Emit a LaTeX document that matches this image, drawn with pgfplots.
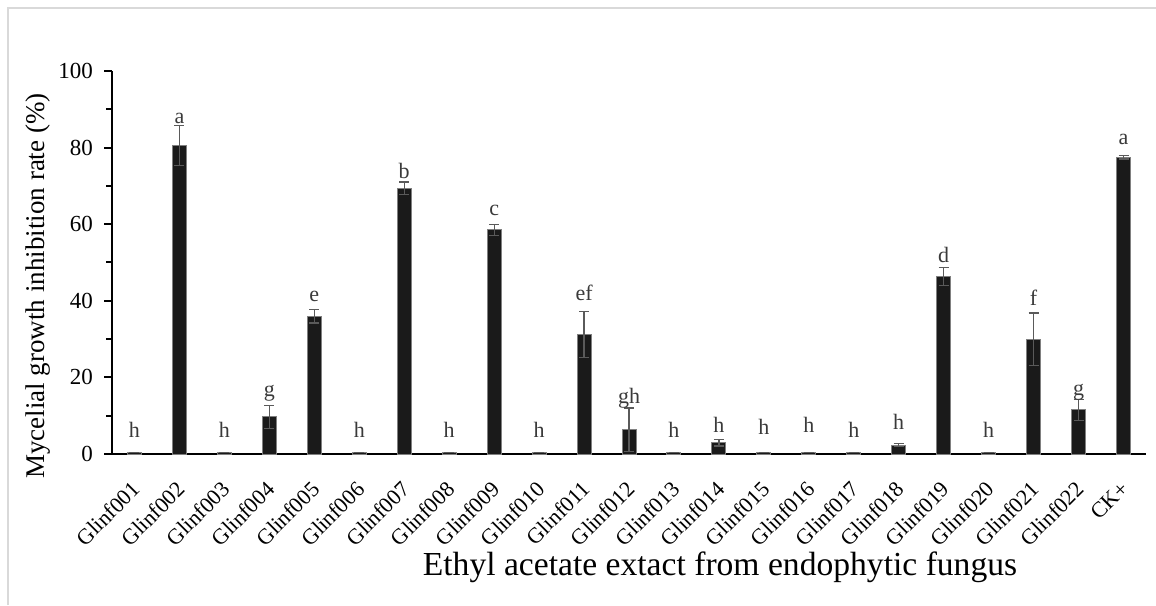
\documentclass[border=0pt]{standalone}
\usepackage{fontspec}
\setmainfont{Liberation Serif}
\usepackage{pgfplots}
\usepackage{pgfplotstable}
\pgfplotsset{compat=1.18}

\definecolor{barfill}{HTML}{1A1A1A}
\definecolor{baredge}{HTML}{808080}
\definecolor{errcol}{HTML}{5A5A5A}
\definecolor{letcol}{HTML}{3A3A3A}
\definecolor{framecol}{HTML}{D9D9D9}

% x  value  error  label-height  letter
\pgfplotstableread{
x  y     err  ly    lab
0  0.4   0.0  4.4   h
1  80.5  5.2  86.4  a
2  0.4   0.0  4.4   h
3  9.7   3.0  14.9  g
4  36.0  1.8  39.7  e
5  0.4   0.0  4.4   h
6  69.4  1.6  72.0  b
7  0.4   0.0  4.4   h
8  58.5  1.5  62.4  c
9  0.4   0.0  4.4   h
10 31.3  6.0  40.2  ef
11 6.3   5.7  13.3  gh
12 0.4   0.0  4.4   h
13 2.9   0.8  5.5   h
14 0.4   0.0  5.0   h
15 0.4   0.0  5.5   h
16 0.4   0.0  4.4   h
17 2.3   0.4  6.3   h
18 46.3  2.4  50.1  d
19 0.4   0.0  4.4   h
20 30.0  6.8  38.9  f
21 11.5  2.8  15.4  g
22 77.5  0.5  80.7  a
}\inhib

\begin{document}
\begin{tikzpicture}
\useasboundingbox (0,0) rectangle (578pt,302.5pt);
\draw[framecol, line width=1pt] (4pt,0) -- (4pt,298.5pt) -- (578pt,298.5pt);
\begin{axis}[
  at={(56pt,75.5pt)}, anchor=south west,
  scale only axis, width=517pt, height=191.5pt,
  clip=false,
  xmin=-0.5, xmax=22.5, ymin=0, ymax=100,
  axis x line=bottom, axis y line=left,
  axis line style={-, line width=1.2pt},
  xtick={0,...,22},
  xticklabels={Glinf001,Glinf002,Glinf003,Glinf004,Glinf005,Glinf006,Glinf007,Glinf008,Glinf009,Glinf010,Glinf011,Glinf012,Glinf013,Glinf014,Glinf015,Glinf016,Glinf017,Glinf018,Glinf019,Glinf020,Glinf021,Glinf022,CK+},
  x tick style={draw=none},
  x tick label style={xshift=-2pt, yshift=-4pt, rotate=45, anchor=north east, font=\fontsize{11}{13}\selectfont},
  ytick={0,20,...,100}, minor y tick num=1,
  y tick style={line width=1pt, black},
  tick align=outside,
  major tick length=4pt, minor tick length=3pt,
  y tick label style={font=\fontsize{11.5}{13}\selectfont, xshift=-2pt},
  /pgf/number format/assume math mode=true,
  ylabel={Mycelial growth inhibition rate (\%)},
  xlabel={Ethyl acetate extact from endophytic fungus},
  every axis y label/.style={at={(axis description cs:-0.0716,0.4386)}, rotate=90, anchor=center, font=\fontsize{13.5}{15}\selectfont},
  every axis x label/.style={at={(axis description cs:0.588,-0.316)}, anchor=base, font=\fontsize{16.8}{18}\selectfont},
]
\addplot[ybar, bar width=7pt, fill=barfill, draw=baredge, line width=0.5pt,
  error bars/.cd, y dir=both, y explicit,
  error bar style={errcol, line width=0.6pt},
  error mark options={rotate=90, mark size=2.5pt, errcol, line width=0.6pt}]
  table[x=x, y=y, y error=err] {\inhib};
\addplot[draw=none, mark=none, nodes near coords, point meta=explicit symbolic,
  nodes near coords style={anchor=base, inner sep=0pt, text=letcol, font=\fontsize{11}{13}\selectfont}]
  table[x=x, y=ly, meta=lab] {\inhib};
\end{axis}
\end{tikzpicture}
\end{document}
